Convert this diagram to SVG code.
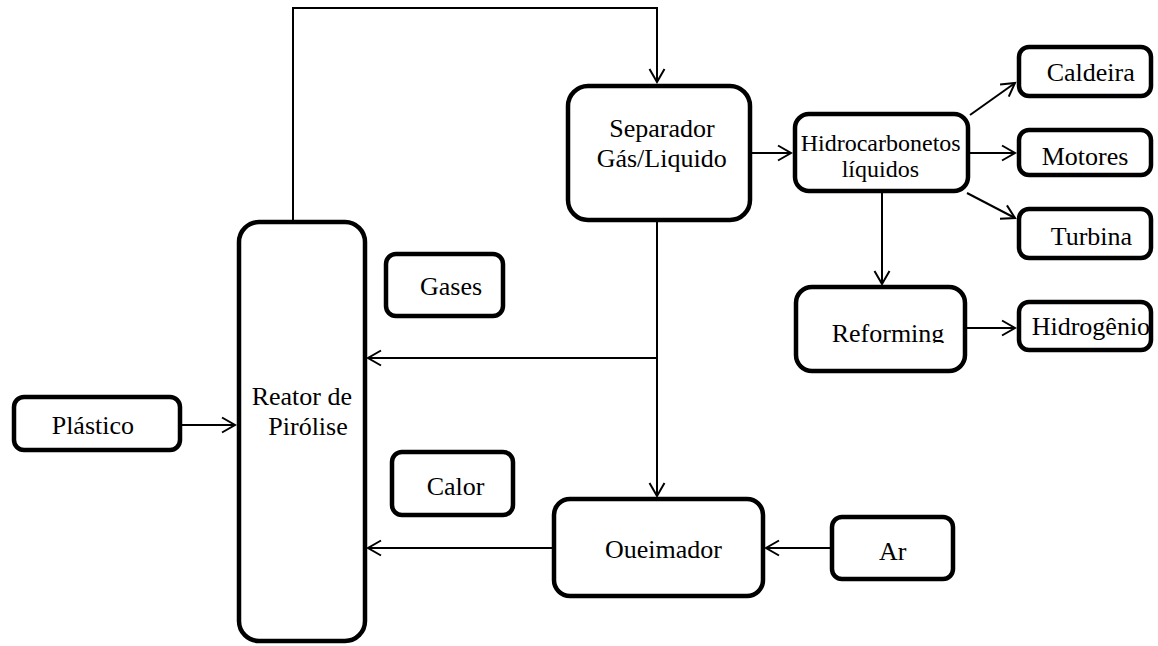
<svg xmlns="http://www.w3.org/2000/svg" width="1158" height="646" viewBox="0 0 1158 646">
<style>
.box{fill:#fff;stroke:#000;stroke-width:4.5}
.t{font-family:"Liberation Serif","Times New Roman",serif;font-size:26px;fill:#000}
.ts{font-family:"Liberation Serif","Times New Roman",serif;font-size:24px;fill:#000}
.c{fill:none;stroke:#000;stroke-width:2}
</style>
<defs>
<marker id="ah" markerUnits="userSpaceOnUse" markerWidth="30" markerHeight="30" viewBox="-15 -15 30 30" refX="0" refY="0" orient="auto">
<path d="M-13,-7.5 L0,0 L-13,7.5" fill="none" stroke="#000" stroke-width="2"/>
</marker>
<clipPath id="refclip"><rect x="780" y="280" width="200" height="63"/></clipPath>
</defs>
<rect width="1158" height="646" fill="#fff"/>
<g id="connectors">
<polyline class="c" points="293,220 293,8 657,8 657,82" marker-end="url(#ah)"/>
<line class="c" x1="752" y1="153" x2="791" y2="153" marker-end="url(#ah)"/>
<line class="c" x1="970" y1="115" x2="1015" y2="83" marker-end="url(#ah)"/>
<line class="c" x1="970" y1="153" x2="1015" y2="153" marker-end="url(#ah)"/>
<line class="c" x1="967" y1="193" x2="1015" y2="218" marker-end="url(#ah)"/>
<line class="c" x1="882" y1="193" x2="882" y2="284" marker-end="url(#ah)"/>
<line class="c" x1="967" y1="328" x2="1015" y2="328" marker-end="url(#ah)"/>
<line class="c" x1="657" y1="222" x2="657" y2="496" marker-end="url(#ah)"/>
<line class="c" x1="657" y1="358" x2="368" y2="358" marker-end="url(#ah)"/>
<line class="c" x1="552" y1="548" x2="368" y2="548" marker-end="url(#ah)"/>
<line class="c" x1="830" y1="548" x2="766" y2="548" marker-end="url(#ah)"/>
<line class="c" x1="182" y1="425" x2="235" y2="425" marker-end="url(#ah)"/>
</g>
<g id="reator">
<rect class="box" x="239" y="222" width="126" height="419" rx="20"/>
<text class="t" x="251.7" y="405">Reator de</text>
<text class="t" x="268.3" y="435">Pirólise</text>
</g>
<g id="separador">
<rect class="box" x="568" y="86" width="182" height="134" rx="20"/>
<text class="t" x="609.3" y="137">Separador</text>
<text class="t" x="596.7" y="167">Gás/Liquido</text>
</g>
<g id="hidrocarbonetos">
<rect class="box" x="795" y="114" width="173" height="77" rx="14"/>
<text class="ts" x="800.7" y="151">Hidrocarbonetos</text>
<text class="ts" x="841.7" y="177">líquidos</text>
</g>
<g id="caldeira">
<rect class="box" x="1019" y="47" width="132" height="49" rx="10"/>
<text class="t" x="1046.7" y="81">Caldeira</text>
</g>
<g id="motores">
<rect class="box" x="1019" y="130" width="132" height="45" rx="10"/>
<text class="t" x="1041.7" y="165">Motores</text>
</g>
<g id="turbina">
<rect class="box" x="1019" y="209" width="132" height="49" rx="10"/>
<text class="t" x="1050.7" y="245">Turbina</text>
</g>
<g id="reforming">
<rect class="box" x="796" y="287" width="169" height="84" rx="16"/>
<text class="t" x="831.7" y="342" clip-path="url(#refclip)">Reforming</text>
</g>
<g id="hidrogenio">
<rect class="box" x="1019" y="302" width="132" height="48" rx="10"/>
<text class="t" x="1031.7" y="335">Hidrogênio</text>
</g>
<g id="gases">
<rect class="box" x="386" y="254" width="117" height="62" rx="10"/>
<text class="t" x="420" y="295">Gases</text>
</g>
<g id="calor">
<rect class="box" x="392" y="452" width="121" height="63" rx="10"/>
<text class="t" x="426.7" y="495">Calor</text>
</g>
<g id="queimador">
<rect class="box" x="554" y="499" width="209" height="97" rx="16"/>
<text class="t" x="605" y="558">Oueimador</text>
</g>
<g id="ar">
<rect class="box" x="832" y="517" width="121" height="62" rx="10"/>
<text class="t" x="879" y="560">Ar</text>
</g>
<g id="plastico">
<rect class="box" x="14" y="397" width="166" height="53" rx="10"/>
<text class="t" x="51.7" y="434">Plástico</text>
</g>
</svg>
